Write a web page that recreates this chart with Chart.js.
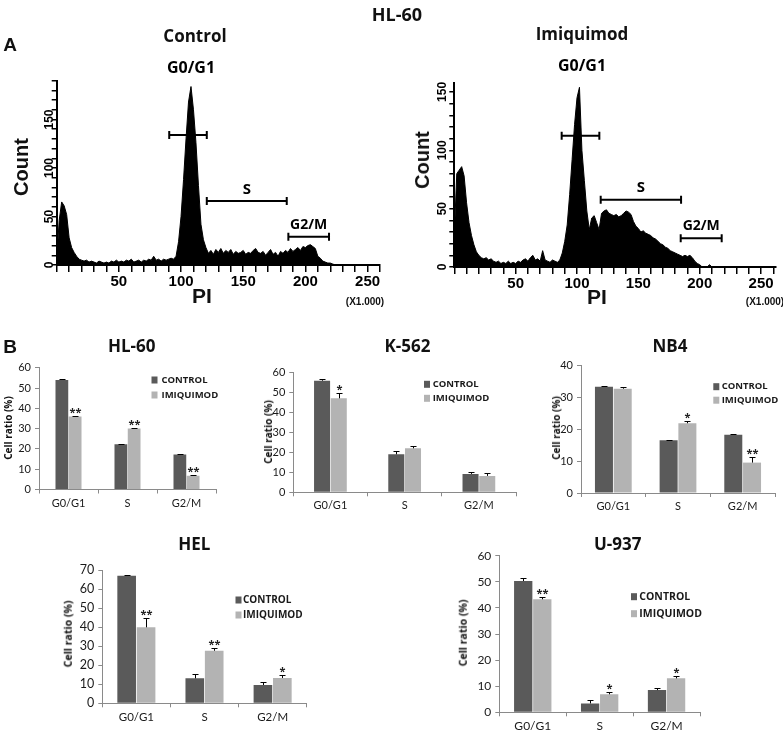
<!DOCTYPE html>
<html>
<head>
<meta charset="utf-8">
<title>HL-60 cell cycle</title>
<script src="https://cdn.jsdelivr.net/npm/chart.js@4.4.1/dist/chart.umd.min.js"></script>
<style>
  html, body { margin: 0; padding: 0; background: #fff; }
  #fig { position: relative; width: 783px; height: 737px; overflow: hidden; }
  #fig canvas { position: absolute; left: 0; top: 0; }
  .lbl { position: absolute; transform: translate(-50%, -50%); white-space: nowrap; color: #111; font-weight: bold; line-height: 1; }
  .rot { transform: translate(-50%, -50%) rotate(-90deg); }
</style>
</head>
<body>
<div id="fig"></div>
<script>
// ---- panel A: PI histograms (counts per 2-unit PI bin, starting at 0) ----
const BIN = 2;
const controlCounts = [
  4, 46, 65, 61, 52, 28, 18, 13, 9, 6, 5, 4, 5, 3, 4, 3, 2, 4, 3, 2,
  3, 2, 4, 3, 5, 3, 4, 3, 5, 4, 6, 3, 4, 5, 3, 5, 4, 6, 5, 9,
  5, 6, 4, 6, 5, 6, 7, 6, 9, 24, 50, 88, 130, 168, 184, 160, 126, 82, 42, 26,
  18, 12, 15, 11, 16, 13, 17, 12, 15, 13, 16, 11, 14, 12, 13, 15, 11, 13, 12, 15,
  17, 13, 12, 14, 10, 13, 16, 11, 13, 9, 14, 12, 15, 13, 17, 14, 16, 18, 15, 19,
  18, 20, 21, 19, 17, 9, 7, 4, 3, 2, 2, 1, 0
];
const imiquimodCounts = [
  27, 80, 83, 86, 78, 55, 38, 27, 19, 13, 10, 8, 7, 8, 6, 7, 5, 4, 5, 3,
  4, 3, 5, 3, 4, 3, 5, 4, 6, 7, 5, 8, 10, 6, 7, 5, 14, 6, 5, 4,
  6, 5, 4, 6, 12, 22, 36, 62, 92, 122, 145, 154, 100, 74, 48, 32, 42, 44, 38, 32,
  46, 48, 49, 46, 45, 44, 45, 43, 44, 46, 48, 47, 45, 39, 35, 33, 30, 31, 29, 28,
  27, 25, 24, 22, 20, 19, 17, 16, 14, 13, 12, 11, 10, 9, 10, 9, 10, 8, 5, 3,
  2, 0, 0, 0, 2, 0
];
const gateNames = ['G0/G1', 'S', 'G2/M'];
const controlGateStart = [90.5, 120.7, 186.3];
const controlGateEnd = [120.7, 185.0, 219.0];
const controlGateLevel = [134, 66, 29];
const imqGateStart = [87.5, 119.3, 184.5];
const imqGateEnd = [118.2, 184.8, 217.9];
const imqGateLevel = [112.5, 57.6, 24.6];

// ---- panel B: cell ratio (%) per phase ----
const phases = ['G0/G1', 'S', 'G2/M'];
const seriesNames = ['CONTROL', 'IMIQUIMOD'];

const hl60Control = [54.0, 22.3, 17.3];
const hl60ControlErr = [0.4, 0.3, 0.4];
const hl60Imq = [36.0, 30.0, 6.8];
const hl60ImqErr = [0.3, 0.3, 0.3];
const hl60Stars = ['**', '**', '**'];

const k562Control = [55.8, 19.0, 9.2];
const k562ControlErr = [0.7, 1.6, 1.1];
const k562Imq = [47.0, 22.0, 8.2];
const k562ImqErr = [2.8, 1.0, 1.3];
const k562Stars = ['*', '', ''];

const nb4Control = [33.2, 16.5, 18.2];
const nb4ControlErr = [0.2, 0.2, 0.1];
const nb4Imq = [32.6, 21.8, 9.5];
const nb4ImqErr = [0.6, 0.6, 1.8];
const nb4Stars = ['', '*', '**'];

const helControl = [67.0, 13.1, 9.6];
const helControlErr = [0.6, 2.1, 1.4];
const helImq = [39.9, 27.6, 13.3];
const helImqErr = [4.7, 1.3, 1.4];
const helStars = ['**', '**', '*'];

const u937Control = [50.3, 3.4, 8.5];
const u937ControlErr = [1.0, 1.3, 0.7];
const u937Imq = [43.3, 6.9, 13.0];
const u937ImqErr = [0.7, 1.0, 0.9];
const u937Stars = ['**', '*', '*'];

const DARK = '#5a5a5a';
const LIGHT = '#b3b3b3';
const W = 783, H = 737;
const SANS = '"Open Sans", Lato, sans-serif';
const LIGHTSANS = 'Lato, "Open Sans", sans-serif';
const ARIAL = '"Liberation Sans", Arial, sans-serif';
const fig = document.getElementById('fig');

function addCanvas(id) {
  const c = document.createElement('canvas');
  c.id = id;
  c.width = W;
  c.height = H;
  fig.appendChild(c);
  return c;
}

// padding so that the plot area lands on [left, top, right, bottom]
function pad(area, yw, xh) {
  return { left: area[0] - yw, top: area[1], right: W - area[2], bottom: H - area[3] - xh };
}

function addText(txt, x, y, size, family, rotated) {
  const d = document.createElement('div');
  d.className = rotated ? 'lbl rot' : 'lbl';
  d.textContent = txt;
  d.style.left = x + 'px';
  d.style.top = y + 'px';
  d.style.fontSize = size + 'px';
  d.style.fontFamily = family;
  fig.appendChild(d);
}

const gatePlugin = {
  id: 'gates',
  afterDatasetsDraw(chart, args, opts) {
    const { ctx } = chart;
    const xs = chart.scales.x, ys = chart.scales.y;
    opts.start.forEach((s, i) => {
      const x1 = xs.getPixelForValue(s);
      const x2 = xs.getPixelForValue(opts.end[i]);
      const yy = ys.getPixelForValue(opts.level[i]);
      ctx.save();
      ctx.strokeStyle = '#000';
      ctx.lineWidth = 2;
      ctx.beginPath();
      ctx.moveTo(x1, yy); ctx.lineTo(x2, yy);
      ctx.moveTo(x1, yy - 4); ctx.lineTo(x1, yy + 4);
      ctx.moveTo(x2, yy - 4); ctx.lineTo(x2, yy + 4);
      ctx.stroke();
      ctx.fillStyle = '#000';
      ctx.font = 'bold ' + opts.sizes[i] + 'px ' + SANS;
      ctx.textAlign = 'center';
      ctx.textBaseline = 'middle';
      ctx.fillText(gateNames[i], (x1 + x2) / 2 + opts.dx[i], yy - opts.dy[i]);
      ctx.restore();
    });
  }
};

function histogram(id, counts, area, yMax, xMax, gates, yPad) {
  const points = counts.map((c, i) => ({ x: i * BIN, y: c }));
  const axisFont = { family: ARIAL, weight: 'bold' };
  new Chart(addCanvas(id), {
    type: 'line',
    data: {
      datasets: [{
        data: points,
        fill: 'origin',
        tension: 0,
        backgroundColor: '#000',
        borderColor: '#000',
        borderWidth: 1,
        pointRadius: 0
      }]
    },
    options: {
      responsive: false,
      animation: false,
      events: [],
      layout: { padding: pad(area, 30, 40) },
      plugins: { legend: { display: false }, tooltip: { enabled: false }, gates: gates },
      scales: {
        x: {
          type: 'linear', min: 0, max: xMax,
          afterFit: (s) => { s.height = 40; },
          border: { color: '#000', width: 2 },
          grid: { drawOnChartArea: false, color: '#000', tickLength: 7, lineWidth: 1.5 },
          ticks: {
            stepSize: 10, autoSkip: false, includeBounds: false, maxRotation: 0, padding: 1,
            color: '#000', font: Object.assign({ size: 15 }, axisFont),
            callback: (v) => (v > 0 && v % 50 === 0) ? v : ''
          }
        },
        y: {
          min: 0, max: yMax,
          afterFit: (s) => { s.width = 30; },
          border: { color: '#000', width: 2 },
          grid: { drawOnChartArea: false, color: '#000', tickLength: 5, lineWidth: 1.5 },
          ticks: {
            stepSize: 10, autoSkip: false, includeBounds: false, minRotation: 90, maxRotation: 90,
            crossAlign: 'center', padding: yPad,
            color: '#000', font: Object.assign({ size: 12 }, axisFont),
            callback: (v) => v % 50 === 0 ? v : ''
          }
        }
      }
    },
    plugins: [gatePlugin]
  });
}

const barExtras = {
  id: 'barExtras',
  afterDatasetsDraw(chart, args, opts) {
    const { ctx } = chart;
    const ys = chart.scales.y;
    chart.data.datasets.forEach((ds, di) => {
      chart.getDatasetMeta(di).data.forEach((bar, i) => {
        const top = Math.round(ys.getPixelForValue(ds.data[i] + ds.errors[i])) + 0.5;
        const bx = Math.round(bar.x) + 0.5;
        ctx.save();
        ctx.strokeStyle = '#000';
        ctx.lineWidth = 1;
        ctx.beginPath();
        ctx.moveTo(bx, bar.y); ctx.lineTo(bx, top);
        ctx.moveTo(bx - 3, top); ctx.lineTo(bx + 3, top);
        ctx.stroke();
        if (ds.stars && ds.stars[i]) {
          ctx.fillStyle = '#222';
          ctx.font = 'bold 11px ' + SANS;
          ctx.textAlign = 'center';
          ctx.textBaseline = 'alphabetic';
          ctx.fillText(ds.stars[i], bx, top - 1);
        }
        ctx.restore();
      });
    });
    const lg = opts.legend;
    chart.data.datasets.forEach((ds, di) => {
      const y = lg.y + di * lg.gap;
      ctx.save();
      ctx.fillStyle = ds.backgroundColor;
      ctx.fillRect(lg.x, y - 3.5, 6, 7);
      ctx.fillStyle = '#1a1a1a';
      ctx.font = 'bold ' + lg.size + 'px ' + SANS;
      ctx.textAlign = 'left';
      ctx.textBaseline = 'middle';
      ctx.fillText(ds.label, lg.textX, y);
      ctx.restore();
    });
  }
};

function barChart(id, cfg) {
  new Chart(addCanvas(id), {
    type: 'bar',
    data: {
      labels: phases,
      datasets: [
        { label: seriesNames[0], data: cfg.control, errors: cfg.controlErr, backgroundColor: DARK },
        { label: seriesNames[1], data: cfg.imq, errors: cfg.imqErr, stars: cfg.stars, backgroundColor: LIGHT }
      ]
    },
    options: {
      responsive: false,
      animation: false,
      events: [],
      layout: { padding: pad(cfg.area, 30, 20) },
      datasets: { bar: { categoryPercentage: cfg.catPct, barPercentage: 0.96 } },
      plugins: { legend: { display: false }, tooltip: { enabled: false }, barExtras: { legend: cfg.legend } },
      scales: {
        x: {
          afterFit: (s) => { s.height = 20; },
          border: { color: '#8a8a8a' },
          grid: { offset: true, drawOnChartArea: false, color: '#8a8a8a', tickLength: 4 },
          ticks: { color: '#1a1a1a', font: { family: LIGHTSANS, size: cfg.catSize }, padding: 3 }
        },
        y: {
          min: 0, max: cfg.yMax,
          afterFit: (s) => { s.width = 30; },
          border: { color: '#8a8a8a' },
          grid: { drawOnChartArea: false, color: '#8a8a8a', tickLength: 4 },
          ticks: { stepSize: 10, color: '#1a1a1a', font: { family: LIGHTSANS, size: cfg.tickSize }, padding: 4 }
        }
      }
    },
    plugins: [barExtras]
  });
}

// panel A
histogram('histControl', controlCounts, [56.7, 80.7, 380, 265], 190, 260,
  { start: controlGateStart, end: controlGateEnd, level: controlGateLevel, dy: [67, 11, 12], dx: [3, 0, 0], sizes: [16, 15, 14] }, -8);
histogram('histImq', imiquimodCounts, [454.3, 82.6, 775.8, 267], 158, 262,
  { start: imqGateStart, end: imqGateEnd, level: imqGateLevel, dy: [69, 12, 12], dx: [1.5, 0, 0], sizes: [16, 15, 14] }, -3);

// panel B
barChart('hl60', { area: [39, 367.7, 216, 489.5], yMax: 60, catPct: 0.45, tickSize: 11, catSize: 11,
  control: hl60Control, controlErr: hl60ControlErr, imq: hl60Imq, imqErr: hl60ImqErr, stars: hl60Stars,
  legend: { x: 151.5, y: 380, gap: 15, textX: 161.5, size: 9.5 } });
barChart('k562', { area: [293.3, 372.3, 516, 492.3], yMax: 60, catPct: 0.45, tickSize: 11, catSize: 11,
  control: k562Control, controlErr: k562ControlErr, imq: k562Imq, imqErr: k562ImqErr, stars: k562Stars,
  legend: { x: 424, y: 384.3, gap: 14, textX: 432.7, size: 9.5 } });
barChart('nb4', { area: [581, 365, 775, 493], yMax: 40, catPct: 0.58, tickSize: 11, catSize: 11,
  control: nb4Control, controlErr: nb4ControlErr, imq: nb4Imq, imqErr: nb4ImqErr, stars: nb4Stars,
  legend: { x: 713.3, y: 386.7, gap: 13.5, textX: 721.7, size: 9.5 } });
barChart('hel', { area: [102.3, 570, 306.7, 703.3], yMax: 70, catPct: 0.57, tickSize: 12.5, catSize: 11.5,
  control: helControl, controlErr: helControlErr, imq: helImq, imqErr: helImqErr, stars: helStars,
  legend: { x: 235.5, y: 600, gap: 15, textX: 243, size: 10 } });
barChart('u937', { area: [499.3, 555.7, 700, 712.3], yMax: 60, catPct: 0.57, tickSize: 12, catSize: 12,
  control: u937Control, controlErr: u937ControlErr, imq: u937Imq, imqErr: u937ImqErr, stars: u937Stars,
  legend: { x: 631, y: 596.7, gap: 17, textX: 639.3, size: 10.5 } });

// figure text
addText('HL-60', 397, 14, 18, SANS);
addText('A', 10, 44, 19, ARIAL);
addText('Control', 195, 35, 17, SANS);
addText('Imiquimod', 582, 33, 17, SANS);
addText('Count', 21, 167, 20, ARIAL, true);
addText('Count', 422, 160, 20, ARIAL, true);
addText('PI', 202, 295, 21, ARIAL);
addText('PI', 597, 296, 21, ARIAL);
addText('(X1.000)', 365, 302, 10, ARIAL);
addText('(X1.000)', 765, 302, 10, ARIAL);
addText('B', 10, 346, 19, ARIAL);
addText('HL-60', 131.7, 345, 17, SANS);
addText('K-562', 407.5, 345, 17, SANS);
addText('NB4', 670, 345, 17, SANS);
addText('HEL', 194.3, 543, 17, SANS);
addText('U-937', 617.7, 543, 17, SANS);
addText('Cell ratio (%)', 8, 428, 10, SANS, true);
addText('Cell ratio (%)', 268, 432, 10, SANS, true);
addText('Cell ratio (%)', 556, 428, 10, SANS, true);
addText('Cell ratio (%)', 68, 634, 10.5, SANS, true);
addText('Cell ratio (%)', 463, 633, 10.5, SANS, true);
</script>
</body>
</html>
